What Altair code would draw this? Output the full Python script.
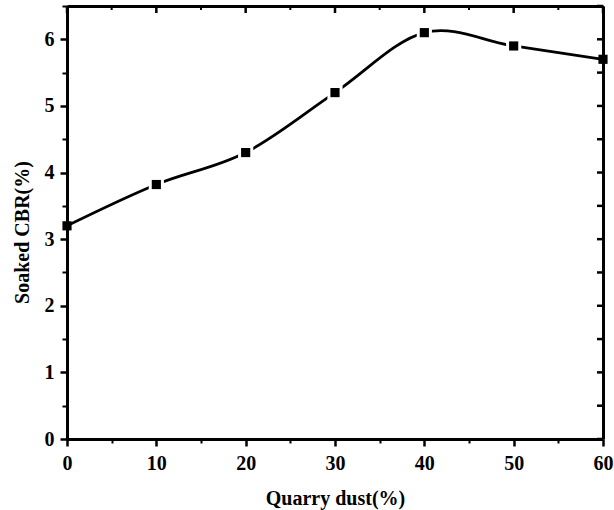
import altair as alt
import pandas as pd

# data
dust = [0, 10, 20, 30, 40, 50, 60]
cbr = [3.20, 3.82, 4.30, 5.20, 6.10, 5.90, 5.70]

x_major = [0, 10, 20, 30, 40, 50, 60]
x_minor = [5, 15, 25, 35, 45, 55]
y_major = [0, 1, 2, 3, 4, 5, 6]
y_minor = [0.5, 1.5, 2.5, 3.5, 4.5, 5.5, 6.5]

df = pd.DataFrame({"dust": dust, "cbr": cbr})
df_xmaj = pd.DataFrame({"v": x_major})
df_xmin = pd.DataFrame({"v": x_minor})
df_yall = pd.DataFrame({"v": y_major + y_minor})

W, H = 536, 433
FONT = "Liberation Serif"
xs = alt.Scale(domain=[0, 60], nice=False, zero=False)
ys = alt.Scale(domain=[0, 6.5], nice=False, zero=False)


def tick_axis(orient, values, size, width=2):
    return alt.Axis(orient=orient, values=values, tickSize=size, tickWidth=width,
                    tickColor="black", domain=False, labels=False, grid=False, title=None)


def frame_axis(orient):
    return alt.Axis(orient=orient, domain=True, domainWidth=3, domainColor="black",
                    ticks=False, labels=False, grid=False, title=None)


x_main = alt.Axis(orient="bottom", values=x_major, tickSize=7, tickWidth=2.5, tickColor="black",
                  domain=True, domainWidth=3, domainColor="black", grid=False,
                  labelFont=FONT, labelFontSize=20, labelFontWeight="bold",
                  labelColor="black", labelPadding=7, labelFlush=False,
                  labelOverlap=False, format="d",
                  title="Quarry dust(%)", titleFont=FONT, titleFontSize=20,
                  titleFontWeight="bold", titleColor="black", titlePadding=15)

y_main = alt.Axis(orient="left", values=y_major, tickSize=7, tickWidth=2.5, tickColor="black",
                  domain=True, domainWidth=3, domainColor="black", grid=False,
                  labelFont=FONT, labelFontSize=20, labelFontWeight="bold",
                  labelColor="black", labelPadding=6, labelFlush=False,
                  labelOverlap=False, format="d",
                  title="Soaked CBR(%)", titleFont=FONT, titleFontSize=20,
                  titleFontWeight="bold", titleColor="black", titleY=226,
                  titlePadding=12)

# inward ticks on the top and right edges
top_major = alt.Chart(df_xmaj).mark_rule(color="black", strokeWidth=2.5).encode(
    x=alt.X("v:Q", scale=xs, axis=None), y=alt.value(0), y2=alt.value(7))
top_minor = alt.Chart(df_xmin).mark_rule(color="black", strokeWidth=2).encode(
    x=alt.X("v:Q", scale=xs, axis=None), y=alt.value(0), y2=alt.value(4))
right_ticks = alt.Chart(df_yall).mark_rule(color="black", strokeWidth=2.5).encode(
    y=alt.Y("v:Q", scale=ys, axis=None), x=alt.value(W - 6), x2=alt.value(W))

line = alt.Chart(df).mark_line(interpolate="cardinal", color="black", strokeWidth=2.8).encode(
    x=alt.X("dust:Q", scale=xs, axis=x_main),
    y=alt.Y("cbr:Q", scale=ys, axis=y_main),
)

halo = alt.Chart(df).transform_filter(
    (alt.datum.dust > 0) & (alt.datum.dust < 60)
).mark_square(color="white", opacity=1, size=230).encode(
    x=alt.X("dust:Q", scale=xs, axis=tick_axis("bottom", x_minor, 4)),
    y=alt.Y("cbr:Q", scale=ys, axis=tick_axis("left", y_minor, 5)),
)

squares = alt.Chart(df).mark_square(color="black", opacity=1, size=84).encode(
    x=alt.X("dust:Q", scale=xs, axis=frame_axis("top")),
    y=alt.Y("cbr:Q", scale=ys, axis=frame_axis("right")),
)

chart = alt.layer(top_major, top_minor, right_ticks, line, halo, squares).resolve_axis(
    x="independent", y="independent"
).properties(
    width=W, height=H,
    autosize=alt.AutoSizeParams(type="none"),
    padding={"left": 67, "top": 6, "right": 11, "bottom": 71},
    background="white",
).configure_view(stroke=None)

chart.save("out.html", embed_options={"renderer": "svg", "actions": False})
